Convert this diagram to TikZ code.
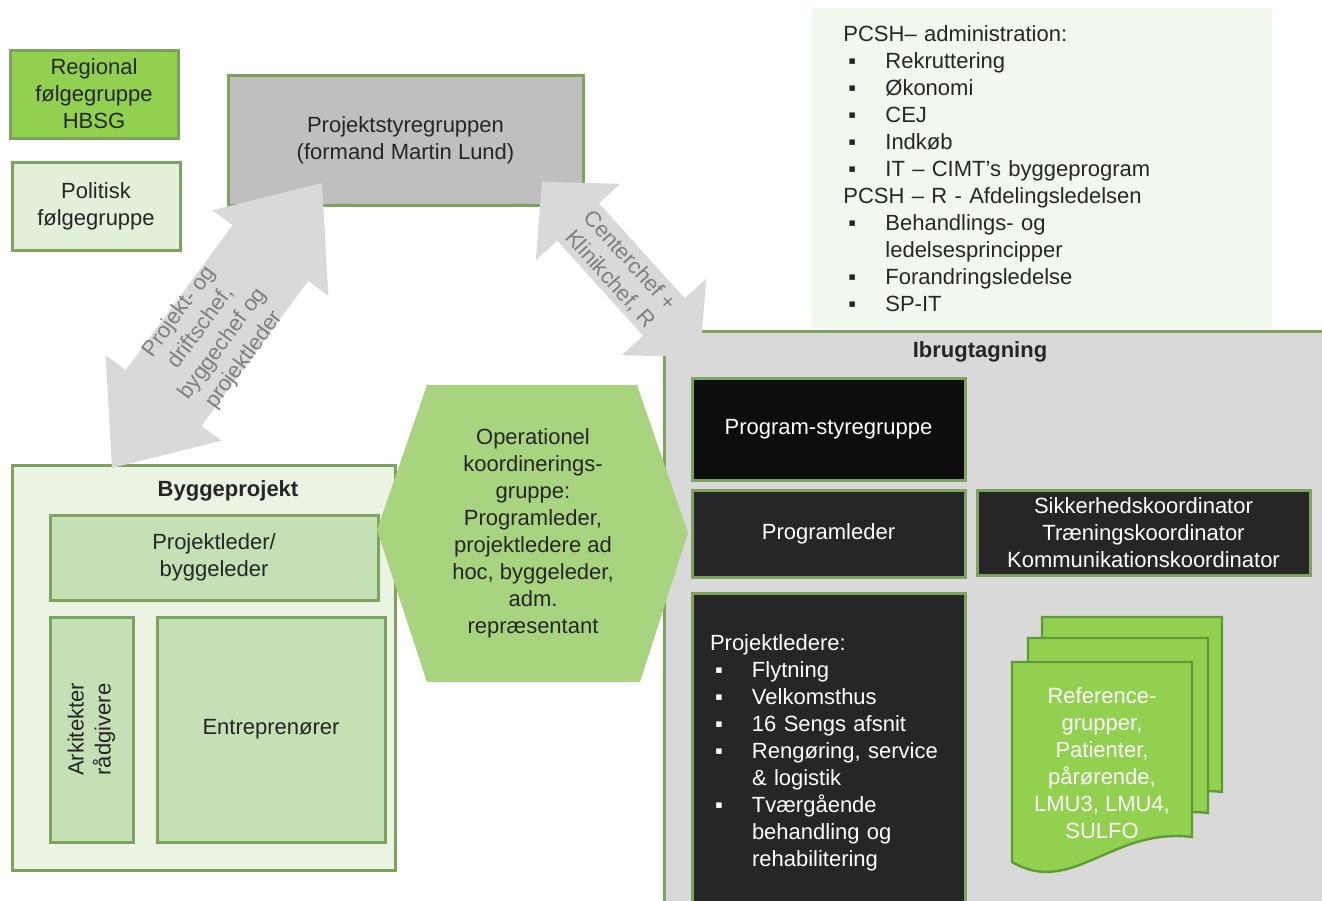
\documentclass[tikz,border=0pt]{standalone}
\usepackage{fontspec}
\setmainfont{Liberation Sans}
\usepackage{tikz}

\definecolor{kant}{HTML}{7EA35F}
\definecolor{mgron}{HTML}{92D050}
\definecolor{lgron}{HTML}{E2F0D9}
\definecolor{hgron}{HTML}{C5E0B4}
\definecolor{bggron}{HTML}{EBF3E3}
\definecolor{hexgron}{HTML}{A9D47F}
\definecolor{pcshbg}{HTML}{F2F8EE}
\definecolor{lgra}{HTML}{D9D9D9}
\definecolor{mgra}{HTML}{BFBFBF}
\definecolor{pilgra}{HTML}{D9D9D9}
\definecolor{pilfarve}{HTML}{7F7F7F}
\definecolor{mork}{HTML}{262626}
\definecolor{sort}{HTML}{0D0D0D}
\definecolor{tekst}{HTML}{262626}
\definecolor{sidekant}{HTML}{5E9B34}

\newcommand{\pkt}{\makebox[21pt][l]{\hspace{2.5pt}▪}}
\newcommand{\ind}{\hspace*{21pt}}

\begin{document}
\begin{tikzpicture}[x=0.5pt,y=-0.5pt,
    tekstfont/.style={font=\fontsize{11}{13.5}\selectfont},
    titel/.style={font=\fontsize{11}{13.5}\selectfont\bfseries, text=tekst},
    boks/.style={tekstfont, draw=kant, line width=1.5pt, align=center, text=tekst, inner sep=1pt},
    morkboks/.style={boks, fill=mork, text=white},
    piltxt/.style={tekstfont, text=pilfarve, align=center},
    side/.style={fill=mgron, draw=sidekant, line width=1.2pt}]
\useasboundingbox (0,0) rectangle (1322,900);
\clip (0,0) rectangle (1322,900);

% baggrundsfelter
\node[boks, fill=lgra, anchor=north west, minimum width=340pt, minimum height=300pt] (ibrug) at (663,330) {};
\node[titel] (ibrugtitel) at (980,352) {Ibrugtagning};
\node[tekstfont, fill=pcshbg, anchor=north west, minimum width=230pt, minimum height=160pt,
      text width=199pt, inner xsep=15.5pt, align=left, text=tekst] (pcsh) at (812,8)
  {PCSH– administration:\\
   \pkt Rekruttering\\
   \pkt Økonomi\\
   \pkt CEJ\\
   \pkt Indkøb\\
   \pkt IT – CIMT’s byggeprogram\\
   PCSH – R - Afdelingsledelsen\\
   \pkt Behandlings- og\\
   \ind ledelsesprincipper\\
   \pkt Forandringsledelse\\
   \pkt SP-IT};

% venstre side
\node[boks, fill=mgron, minimum width=84pt, minimum height=44pt] (regional) at (94,94) {Regional\\følgegruppe\\HBSG};
\node[boks, fill=lgron, minimum width=84pt, minimum height=44pt] (politisk) at (96,206) {Politisk\\følgegruppe};
\node[boks, fill=mgra, minimum width=177.5pt, minimum height=65pt] (styre) at (405.5,140) {Projektstyregruppen\\(formand Martin Lund)};

\node[boks, fill=bggron, minimum width=191.5pt, minimum height=202.5pt] (bygge) at (203.5,667.5) {};
\node[titel] (byggetitel) at (228,491) {Byggeprojekt};
\node[boks, fill=hgron, minimum width=164pt, minimum height=42.5pt] (pleder) at (214,557.5) {Projektleder/\\byggeleder};
\node[boks, fill=hgron, minimum width=112.5pt, minimum height=41.5pt, rotate=90] (ark) at (91.5,729.5) {Arkitekter\\rådgivere};
\node[boks, fill=hgron, minimum width=114pt, minimum height=112.5pt] (entre) at (271,729.5) {Entreprenører};

% koordineringsgruppen
\fill[hexgron] (427,385) -- (637,385) -- (688,533) -- (640,682) -- (427,682) -- (377,530) -- cycle;
\node[tekstfont, text=tekst, align=center] (okg) at (533,533)
  {Operationel\\koordinerings-\\gruppe:\\Programleder,\\projektledere ad\\hoc, byggeleder,\\adm.\\repræsentant};

% ibrugtagning
\node[morkboks, fill=sort, minimum width=136.5pt, minimum height=51pt] (progstyre) at (828.5,429) {Program-styregruppe};
\node[morkboks, minimum width=136.5pt, minimum height=43.5pt] (progleder) at (828.5,533.5) {Programleder};
\node[morkboks, minimum width=166.5pt, minimum height=42.5pt] (koord) at (1143.5,532.5)
  {Sikkerhedskoordinator\\Træningskoordinator\\Kommunikationskoordinator};
\node[morkboks, anchor=north, minimum width=136.5pt, minimum height=159pt, align=left,
      text width=118.5pt, inner xsep=9pt] (projledere) at (828.5,592)
  {Projektledere:\\
   \pkt Flytning\\
   \pkt Velkomsthus\\
   \pkt 16 Sengs afsnit\\
   \pkt Rengøring, service\\
   \ind \& logistik\\
   \pkt Tværgående\\
   \ind behandling og\\
   \ind rehabilitering};

% referencegrupper
\foreach \sx/\sy in {1042/617, 1028/638, 1012/662}
  \filldraw[side] (\sx,\sy) -- (\sx+180,\sy) -- (\sx+180,\sy+175)
    .. controls (\sx+100,\sy+165) and (\sx+60,\sy+235) .. (\sx,\sy+200) -- cycle;
\node[tekstfont, text=white, align=center] (ref) at (1102,763)
  {Reference-\\grupper,\\Patienter,\\pårørende,\\LMU3, LMU4,\\SULFO};

% store dobbeltpile
\begin{scope}[shift={(217,325.5)}, rotate=53.6]
  \fill[pilgra] (-177,0) -- (-90,-72) -- (-90,-47) -- (90,-47) -- (90,-72) -- (177,0)
    -- (90,72) -- (90,47) -- (-90,47) -- (-90,72) -- cycle;
\end{scope}
\node[piltxt, rotate=53.6] (pil1) at (212,336) {Projekt- og\\driftschef,\\byggechef og\\projektleder};

\begin{scope}[shift={(621,269.5)}, rotate=-47.9]
  \fill[pilgra] (-118,0) -- (-64,-57) -- (-64,-28) -- (64,-28) -- (64,-57) -- (118,0)
    -- (64,57) -- (64,28) -- (-64,28) -- (-64,57) -- cycle;
\end{scope}
\node[piltxt, rotate=-47.9] (pil2) at (620,270) {Centerchef +\\Klinikchef, R};

\end{tikzpicture}
\end{document}
